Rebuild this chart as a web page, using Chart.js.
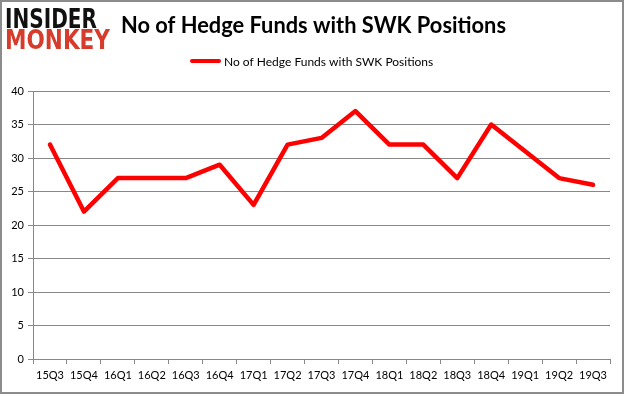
<!DOCTYPE html>
<html>
<head>
<meta charset="utf-8">
<script src="https://cdn.jsdelivr.net/npm/chart.js@4"></script>
<style>
  html, body { margin: 0; padding: 0; background: #fff; }
  #wrap { width: 625px; height: 395px; position: relative; }
</style>
</head>
<body>
<div id="wrap"><canvas id="myChart" width="625" height="395"></canvas></div>
<script>
// 資料
const quarters = ['15Q3', '15Q4', '16Q1', '16Q2', '16Q3', '16Q4', '17Q1', '17Q2', '17Q3',
    '17Q4', '18Q1', '18Q2', '18Q3', '18Q4', '19Q1', '19Q2', '19Q3'];
const fundCounts = [32, 22, 27, 27, 27, 29, 23, 32, 33, 37, 32, 32, 27, 35, 31, 27, 26];
const seriesName = 'No of Hedge Funds with SWK Positions';
const chartTitle = 'No of Hedge Funds with SWK Positions';

const FONT = 'Lato, "Open Sans", sans-serif';
const GRID = '#888888';

// 把文字水平縮放到指定寬度
function fitText(ctx, text, x, y, width) {
    const w = ctx.measureText(text).width;
    ctx.save();
    ctx.translate(x, y);
    ctx.scale(width / w, 1);
    ctx.fillText(text, 0, 0);
    ctx.restore();
}

// 外框、標誌、標題與圖例
const decorPlugin = {
    id: 'decor',
    afterDraw(chart) {
        const ctx = chart.ctx;
        ctx.save();
        // 外框
        ctx.strokeStyle = '#8c8c8c';
        ctx.lineWidth = 2;
        ctx.strokeRect(1, 1, 622, 392);

        // 標誌
        ctx.textBaseline = 'alphabetic';
        ctx.textAlign = 'left';
        ctx.font = 'bold 26px "DejaVu Sans", sans-serif';
        ctx.fillStyle = '#111';
        fitText(ctx, 'INSIDER', 5, 28, 92);
        ctx.fillStyle = '#d63b2b';
        fitText(ctx, 'MONKEY', 5, 49, 105);

        // 標題
        ctx.fillStyle = '#000';
        ctx.font = 'bold 22px ' + FONT;
        fitText(ctx, chartTitle, 121, 33, 385);

        // 圖例
        const ds = chart.data.datasets[0];
        ctx.strokeStyle = ds.borderColor;
        ctx.lineWidth = 4;
        ctx.lineCap = 'round';
        ctx.beginPath();
        ctx.moveTo(192, 61);
        ctx.lineTo(219, 61);
        ctx.stroke();
        ctx.font = '12px ' + FONT;
        ctx.textBaseline = 'middle';
        ctx.fillText(ds.label, 224, 62);
        ctx.restore();
    }
};

const ctx = document.getElementById('myChart').getContext('2d');
const myChart = new Chart(ctx, {
    type: 'line',
    data: {
        labels: quarters,
        datasets: [{
            label: seriesName,
            data: fundCounts,
            borderColor: '#ff0000',
            borderWidth: 4.5,
            tension: 0,
            fill: false,
            pointRadius: 0,
            borderJoinStyle: 'round',
            borderCapStyle: 'round'
        }]
    },
    options: {
        responsive: false,
        animation: false,
        layout: { padding: { top: 91, right: 15, left: 0, bottom: 0 } },
        plugins: {
            legend: { display: false },
            title: { display: false },
            tooltip: { enabled: false }
        },
        scales: {
            x: {
                offset: true,
                afterFit: s => { s.height = 36; },
                grid: {
                    offset: true,
                    drawOnChartArea: false,
                    drawTicks: true,
                    tickLength: 5,
                    color: GRID
                },
                border: { display: true, color: GRID, width: 1 },
                ticks: {
                    color: '#000',
                    font: { family: FONT, size: 11 },
                    padding: 5,
                    maxRotation: 0,
                    autoSkip: false
                }
            },
            y: {
                min: 0,
                max: 40,
                afterFit: s => { s.width = 33; },
                grid: {
                    color: GRID,
                    drawTicks: true,
                    tickLength: 5
                },
                border: { display: true, color: GRID, width: 1 },
                ticks: {
                    stepSize: 5,
                    color: '#000',
                    font: { family: FONT, size: 11 },
                    padding: 4
                }
            }
        }
    },
    plugins: [decorPlugin]
});
</script>
</body>
</html>
